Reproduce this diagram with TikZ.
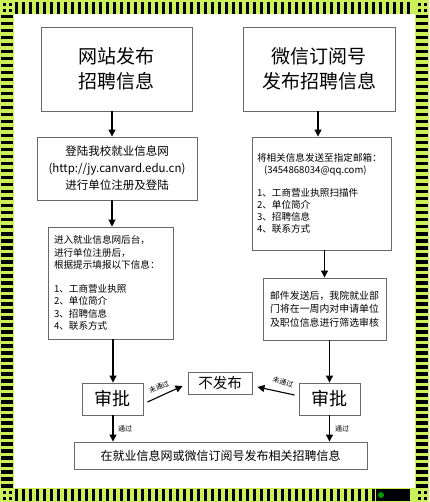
\documentclass[tikz,border=0pt]{standalone}
\usepackage{fontspec}
\setmainfont{Noto Sans CJK SC}
\usetikzlibrary{arrows.meta,calc}
\definecolor{lime}{RGB}{204,240,90}
\definecolor{boxgray}{RGB}{105,105,105}
\begin{document}
\begin{tikzpicture}[x=1pt,y=-1pt,
  box/.style={draw=boxgray,line width=0.9pt,fill=white,inner sep=0pt},
  arr/.style={line width=1.1pt,-{Triangle[length=7pt,width=7pt]}},
  ln/.style={line width=1.1pt},
  lab/.style={font=\fontsize{7}{8}\selectfont,inner sep=0.5pt}]
\useasboundingbox (0,0) rectangle (429,502);
% frame
\fill[lime] (0,0) rectangle (429,502);
\fill[white] (14,14) rectangle (415,488);
\foreach \i in {0,...,56} {
  \fill[black] ({15+\i*7},2) rectangle ++(3,12);
  \fill[black] ({15+\i*7},489) rectangle ++(3,12);
}
\foreach \j in {0,...,67} {
  \fill[black] (1,{15+\j*7}) rectangle ++(12,3.5);
  \fill[black] (416,{15+\j*7}) rectangle ++(12,3.5);
}
\foreach \cx/\cy in {0/0,415/0,0/488,415/488} {
  \fill[black] ({\cx+3},{\cy+3}) rectangle ++(3,3);
  \fill[black] ({\cx+9},{\cy+3}) rectangle ++(3,3);
  \fill[black] ({\cx+3},{\cy+9}) rectangle ++(3,3);
  \fill[black] ({\cx+9},{\cy+9}) rectangle ++(3,3);
}
\fill[black] (376,489) rectangle (410,501);
\fill[green!60!black] (381,495) circle (3);
% nodes
\node[box,minimum width=151,minimum height=84,align=center,font=\fontsize{19}{25}\selectfont] (b1) at (116.5,69) {网站发布\\招聘信息};
\node[box,minimum width=152,minimum height=84,align=center,font=\fontsize{19}{25}\selectfont] (b2) at (319,69) {微信订阅号\\发布招聘信息};
\node[box,minimum width=160,minimum height=63,align=center,font=\fontsize{11.5}{17}\selectfont] (b3) at (117,168.5) {登陆我校就业信息网\\(http://jy.canvard.edu.cn)\\进行单位注册及登陆};
\node[box,text width=113,inner xsep=6,minimum height=112,align=left,font=\fontsize{9.6}{12.2}\selectfont] (b4) at (110.5,283) {进入就业信息网后台，\\进行单位注册后，\\根据提示填报以下信息：\\[12.2pt]1、工商营业执照\\2、单位简介\\3、招聘信息\\4、联系方式};
\node[box,text width=129,inner xsep=5,minimum height=113,align=left,font=\fontsize{9.6}{12}\selectfont] (r3) at (321.5,193.5) {将相关信息发送至指定邮箱：\\\hspace*{7pt}(3454868034@qq.com)\\[11pt]1、工商营业执照扫描件\\2、单位简介\\3、招聘信息\\4、联系方式};
\node[box,minimum width=123,minimum height=62,align=center,font=\fontsize{9.9}{13.5}\selectfont] (r4) at (324.5,309) {邮件发送后，我院就业部\\门将在一周内对申请单位\\及职位信息进行筛选审核};
\node[box,minimum width=61,minimum height=32,font=\fontsize{18}{20}\selectfont] (spL) at (112.5,399) {审批};
\node[box,minimum width=61,minimum height=32,font=\fontsize{18}{20}\selectfont] (spR) at (329.5,399) {审批};
\node[box,minimum width=64,minimum height=22,font=\fontsize{14.5}{16}\selectfont] (bfb) at (220,383) {不发布};
\node[box,minimum width=293,minimum height=27,font=\fontsize{12}{14}\selectfont] (fin) at (220.5,455.5) {在就业信息网或微信订阅号发布相关招聘信息};
% connectors
\coordinate (lx1) at (112,0);
\coordinate (lx2) at (113,0);
\coordinate (rx1) at (318,0);
\coordinate (rx2) at (324.5,0);
\coordinate (rx3) at (329.5,0);
\draw[arr] (b1.south -| lx1) -- (b3.north -| lx1);
\draw[arr] (b3.south -| lx1) -- (b4.north -| lx1);
\draw[arr] (b4.south -| lx2) -- (spL.north -| lx2);
\draw[arr] (spL.south -| lx2) -- (fin.north -| lx2);
\draw[arr] (b2.south -| rx1) -- (r3.north -| rx1);
\draw[arr] (r3.south -| rx2) -- (r4.north -| rx2);
\draw[arr] (r4.south -| rx3) -- (spR.north -| rx3);
\draw[arr] (spR.south -| rx3) -- (fin.north -| rx3);
\coordinate (aL1) at ($(spL.east)+(4,3)$);
\coordinate (aL2) at ($(bfb.west)+(-5,3)$);
\coordinate (aR1) at ($(spR.west)+(-4,-4)$);
\coordinate (aR2) at ($(bfb.east)+(5,4)$);
\draw[arr] (aL1) -- (aL2);
\draw[arr] (aR1) -- (aR2);
\node[lab,rotate=22] (tL) at (159,387) {未通过};
\node[lab,rotate=-18] (tR) at (283,382) {未通过};
\node[lab] (pL) at (125,429) {通过};
\node[lab] (pR) at (342,429) {通过};
\end{tikzpicture}
\end{document}
